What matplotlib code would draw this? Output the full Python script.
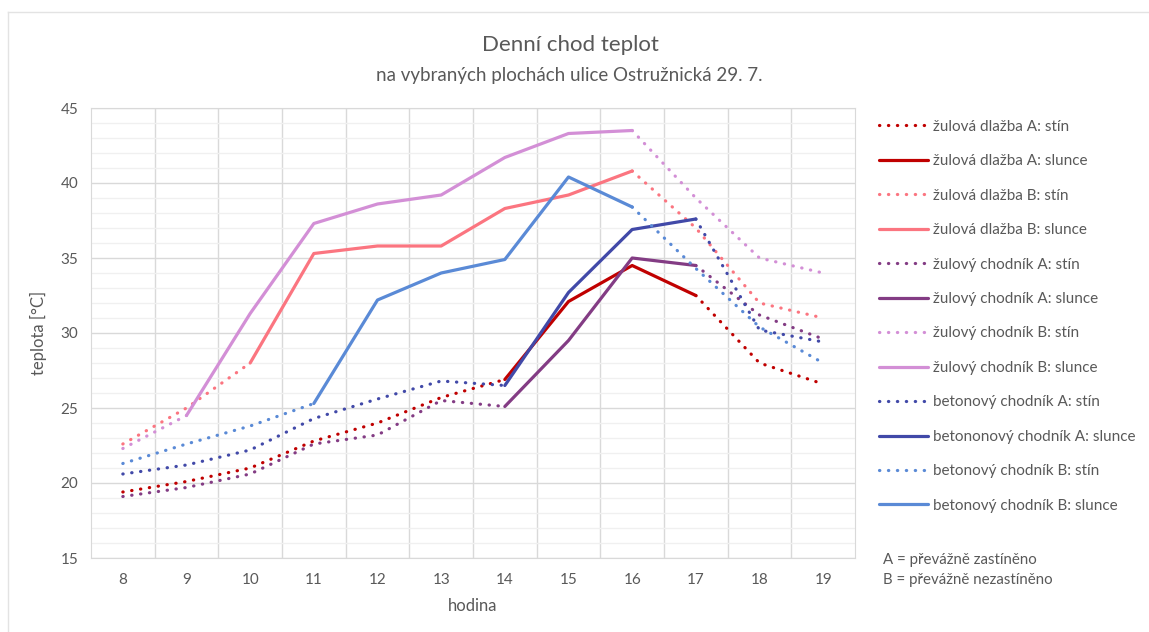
import numpy as np
import matplotlib
matplotlib.use("Agg")
import matplotlib.pyplot as plt
from matplotlib.ticker import MultipleLocator, FixedLocator
from matplotlib.lines import Line2D

plt.rcParams['font.family'] = ['Lato', 'DejaVu Sans']

nan = np.nan
hodiny = list(range(8, 20))

# žulová dlažba A
dlazba_a_stin = [19.4, 20.1, 21.0, 22.8, 24.0, 25.7, 26.9, nan, nan, 32.5, 28.0, 26.6]
dlazba_a_slunce = [nan, nan, nan, nan, nan, nan, 26.9, 32.1, 34.5, 32.5, nan, nan]
# žulová dlažba B
dlazba_b_stin = [22.6, 25.0, 28.0, nan, nan, nan, nan, nan, 40.8, 37.0, 32.0, 31.0]
dlazba_b_slunce = [nan, nan, 28.0, 35.3, 35.8, 35.8, 38.3, 39.2, 40.8, nan, nan, nan]
# žulový chodník A
zul_a_stin = [19.1, 19.7, 20.6, 22.6, 23.2, 25.5, 25.1, nan, nan, 34.5, 31.2, 29.6]
zul_a_slunce = [nan, nan, nan, nan, nan, nan, 25.1, 29.5, 35.0, 34.5, nan, nan]
# žulový chodník B
zul_b_stin = [22.3, 24.5, nan, nan, nan, nan, nan, nan, 43.5, 39.0, 35.0, 34.0]
zul_b_slunce = [nan, 24.5, 31.3, 37.3, 38.6, 39.2, 41.7, 43.3, 43.5, nan, nan, nan]
# betonový chodník A
bet_a_stin = [20.6, 21.2, 22.2, 24.3, 25.6, 26.8, 26.5, nan, nan, 37.6, 30.2, 29.4]
bet_a_slunce = [nan, nan, nan, nan, nan, nan, 26.5, 32.7, 36.9, 37.6, nan, nan]
# betonový chodník B
bet_b_stin = [21.3, 22.6, 23.8, 25.3, nan, nan, nan, nan, 38.4, 34.3, 30.4, 28.0]
bet_b_slunce = [nan, nan, nan, 25.3, 32.2, 34.0, 34.9, 40.4, 38.4, nan, nan, nan]

serie = [
    ("žulová dlažba A: stín", dlazba_a_stin, "#C00000", ":"),
    ("žulová dlažba A: slunce", dlazba_a_slunce, "#C00000", "-"),
    ("žulová dlažba B: stín", dlazba_b_stin, "#FB7580", ":"),
    ("žulová dlažba B: slunce", dlazba_b_slunce, "#FB7580", "-"),
    ("žulový chodník A: stín", zul_a_stin, "#833C84", ":"),
    ("žulový chodník A: slunce", zul_a_slunce, "#833C84", "-"),
    ("žulový chodník B: stín", zul_b_stin, "#D38FD6", ":"),
    ("žulový chodník B: slunce", zul_b_slunce, "#D38FD6", "-"),
    ("betonový chodník A: stín", bet_a_stin, "#4149A8", ":"),
    ("betononový chodník A: slunce", bet_a_slunce, "#4149A8", "-"),
    ("betonový chodník B: stín", bet_b_stin, "#5A8AD6", ":"),
    ("betonový chodník B: slunce", bet_b_slunce, "#5A8AD6", "-"),
]

fig = plt.figure(figsize=(11.49, 6.32), dpi=100)
ax = fig.add_axes([91 / 1149, 1 - 558 / 632, 764 / 1149, 450 / 632])

x = np.arange(len(hodiny))
for label, vals, col, ls in serie:
    if ls == ":":
        ax.plot(x, vals, color=col, lw=2.3, linestyle=(0, (0.1, 2.7)),
                dash_capstyle="round", label=label)
    else:
        ax.plot(x, vals, color=col, lw=2.3, solid_capstyle="round",
                solid_joinstyle="round", label=label)

ax.set_xlim(-0.5, len(hodiny) - 0.5)
ax.set_ylim(15, 45)
ax.set_xticks(x)
ax.set_xticklabels([str(h) for h in hodiny])
ax.xaxis.set_minor_locator(FixedLocator(np.arange(0.5, len(hodiny) - 0.5, 1)))
ax.yaxis.set_major_locator(MultipleLocator(5))
ax.yaxis.set_minor_locator(MultipleLocator(1))

ax.grid(which="minor", axis="x", color="#D9D9D9", lw=1)
ax.grid(which="major", axis="y", color="#D9D9D9", lw=1)
ax.grid(which="minor", axis="y", color="#F0F0F0", lw=1)
ax.set_axisbelow(True)
ax.tick_params(which="both", length=0, labelsize=11, labelcolor="#595959")
ax.tick_params(axis="x", pad=11)
ax.tick_params(axis="y", pad=9)
for s in ax.spines.values():
    s.set_color("#D9D9D9")

ax.set_xlabel("hodina", fontsize=12, color="#595959", labelpad=8)
ax.set_ylabel("teplota [°C]", fontsize=12, color="#595959", labelpad=10)

fig.text(570 / 1149, 1 - 45 / 632, "Denní chod teplot", ha="center", va="center",
         fontsize=16, color="#595959")
fig.text(569 / 1149, 1 - 75 / 632, "na vybraných plochách ulice Ostružnická 29. 7.",
         ha="center", va="center", fontsize=13.5, color="#595959")

leg = ax.legend(loc="upper left", bbox_to_anchor=(871 / 1149, 1 - 112 / 632),
                bbox_transform=fig.transFigure, frameon=False, fontsize=11,
                labelcolor="#595959", handlelength=3.25, handletextpad=0.3,
                labelspacing=1.34, borderpad=0)

fig.text(883 / 1149, 1 - 560 / 632, "A = převážně zastíněno", ha="left", va="center",
         fontsize=10.8, color="#595959")
fig.text(883 / 1149, 1 - 580 / 632, "B = převážně nezastíněno", ha="left", va="center",
         fontsize=10.8, color="#595959")

# okraj grafu
fig.add_artist(Line2D([8 / 1149, 1], [1 - 12 / 632, 1 - 12 / 632],
                      transform=fig.transFigure, color="#E3E3E3", lw=1))
fig.add_artist(Line2D([8 / 1149, 8 / 1149], [0, 1 - 12 / 632],
                      transform=fig.transFigure, color="#E3E3E3", lw=1))

fig.savefig("out.png", dpi=100)
